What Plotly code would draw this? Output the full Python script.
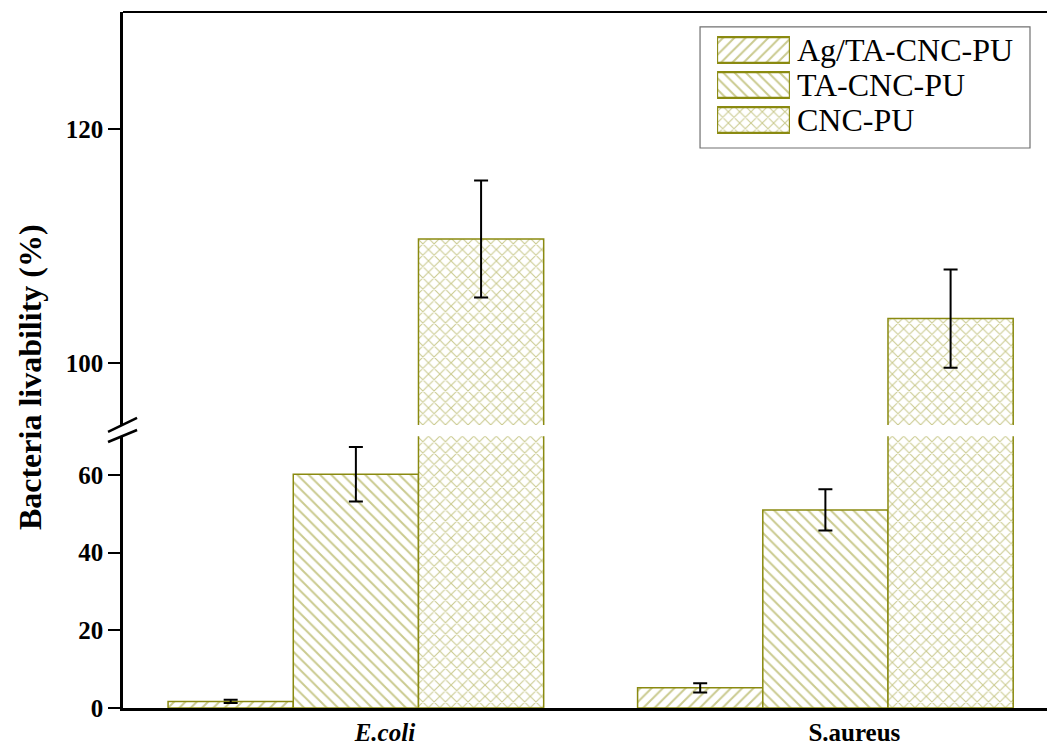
import plotly.graph_objects as go

categories = ["E.coli", "S.aureus"]
tick_text = ["<b><i>E.coli</i></b>", "<b>S.aureus</b>"]
series_names = ["Ag/TA-CNC-PU", "TA-CNC-PU", "CNC-PU"]
ag_vals = [1.7, 5.2]
ag_err = [0.4, 1.2]
ta_vals = [60.2, 51.0]
ta_err = [7.0, 5.3]
cnc_vals = [110.6, 103.8]
cnc_err = [5.0, 4.2]
lower_ticks = [0, 20, 40, 60]
upper_ticks = [100, 120]
legend_swatch_len = [1, 1, 1]

values = [ag_vals, ta_vals, cnc_vals]
errors = [ag_err, ta_err, cnc_err]
shapes_pat = ["/", "\\", "x"]

FONT = "Liberation Serif, Times New Roman, serif"
OUTLINE = "#8a8a10"
HATCH = "#959520"

fig = go.Figure()
for axis_i, (xa, ya) in enumerate([("x", "y"), ("x2", "y2")]):
    for name, v, e, p in zip(series_names, values, errors, shapes_pat):
        fig.add_trace(go.Bar(
            x=categories, y=v, name=name, xaxis=xa, yaxis=ya,
            showlegend=False,
            marker=dict(color="white",
                        line=dict(color=OUTLINE, width=1.5),
                        pattern=dict(shape=p, fgcolor=HATCH, bgcolor="white",
                                     size=8, solidity=0.25)),
            error_y=dict(type="data", array=e, visible=True, color="black",
                         thickness=2, width=7),
        ))

# custom legend: swatches drawn as horizontal bars on their own small axis
fig.add_trace(go.Bar(
    y=series_names, x=legend_swatch_len, orientation="h", xaxis="x3", yaxis="y3",
    showlegend=False, hoverinfo="skip", width=0.74,
    marker=dict(color="white", line=dict(color=OUTLINE, width=2.2),
                pattern=dict(shape=shapes_pat, fgcolor=HATCH, bgcolor="white",
                             size=8, solidity=0.25)),
))

axis_common = dict(showline=True, linecolor="black", linewidth=2.5,
                   ticks="outside", ticklen=12, tickwidth=2, tickcolor="black",
                   showgrid=False, zeroline=False, automargin=False,
                   tickfont=dict(family=FONT, size=25, color="black", weight="bold"))

fig.update_layout(
    width=1047, height=747,
    margin=dict(l=123, r=0, t=12, b=39, autoexpand=False),
    paper_bgcolor="white", plot_bgcolor="white",
    barmode="group", bargap=0.2, bargroupgap=0,
    xaxis=dict(domain=[0, 1], anchor="y", range=[-0.496, 1.472],
               showline=True, linecolor="black", linewidth=2.5,
               ticks="", showgrid=False, zeroline=False, automargin=False,
               tickvals=categories, ticktext=tick_text,
               ticklabelshift=29, ticklabelstandoff=0,
               tickfont=dict(family=FONT, size=25, color="black")),
    xaxis2=dict(domain=[0, 1], anchor="y2", matches="x", visible=False),
    yaxis=dict(domain=[0, 0.3906], anchor="x", range=[0, 70],
               tickvals=lower_ticks, **axis_common),
    yaxis2=dict(domain=[0.4066, 1], anchor="x2", range=[94.7, 130],
                tickvals=upper_ticks, **axis_common),
    xaxis3=dict(domain=[0.6429, 0.7218], anchor="y3", range=[0, 1],
                visible=False, fixedrange=True),
    yaxis3=dict(domain=[0.8197, 0.9705], anchor="x3", side="right",
                categoryorder="array", categoryarray=series_names[::-1],
                tickmode="array", tickvals=series_names, ticktext=series_names,
                showline=False, showgrid=False, zeroline=False, ticks="",
                ticklabelstandoff=6, automargin=False, fixedrange=True,
                tickfont=dict(family=FONT, size=32, color="black")),
    showlegend=False,
)

fig.add_annotation(text="<b>Bacteria livability (%)</b>", xref="paper", yref="paper",
                   x=-0.1006, y=0.4755, textangle=-90, showarrow=False,
                   xanchor="center", yanchor="middle",
                   font=dict(family=FONT, size=32, color="black"))

# legend frame
fig.add_shape(type="rect", xref="paper", yref="paper",
              x0=0.6245, x1=0.9816, y0=0.8046, y1=0.9785,
              line=dict(color="#707070", width=1.2), fillcolor="rgba(0,0,0,0)")
# top frame line
fig.add_shape(type="line", xref="paper", yref="paper", x0=0, x1=1, y0=1, y1=1,
              line=dict(color="black", width=2))
# axis break marks
for (y0, y1) in [(0.3966, 0.4167), (0.3822, 0.3994)]:
    fig.add_shape(type="line", xref="paper", yref="paper",
                  x0=-0.0162, x1=0.0152, y0=y0, y1=y1,
                  line=dict(color="black", width=2.5))

fig.write_html("out.html", config={"displayModeBar": False})
with open("out.html", "r", encoding="utf-8") as f:
    html = f.read()
html = html.replace("<head>", "<head><style>html,body{margin:0;padding:0;overflow:hidden;}</style>", 1)
with open("out.html", "w", encoding="utf-8") as f:
    f.write(html)
